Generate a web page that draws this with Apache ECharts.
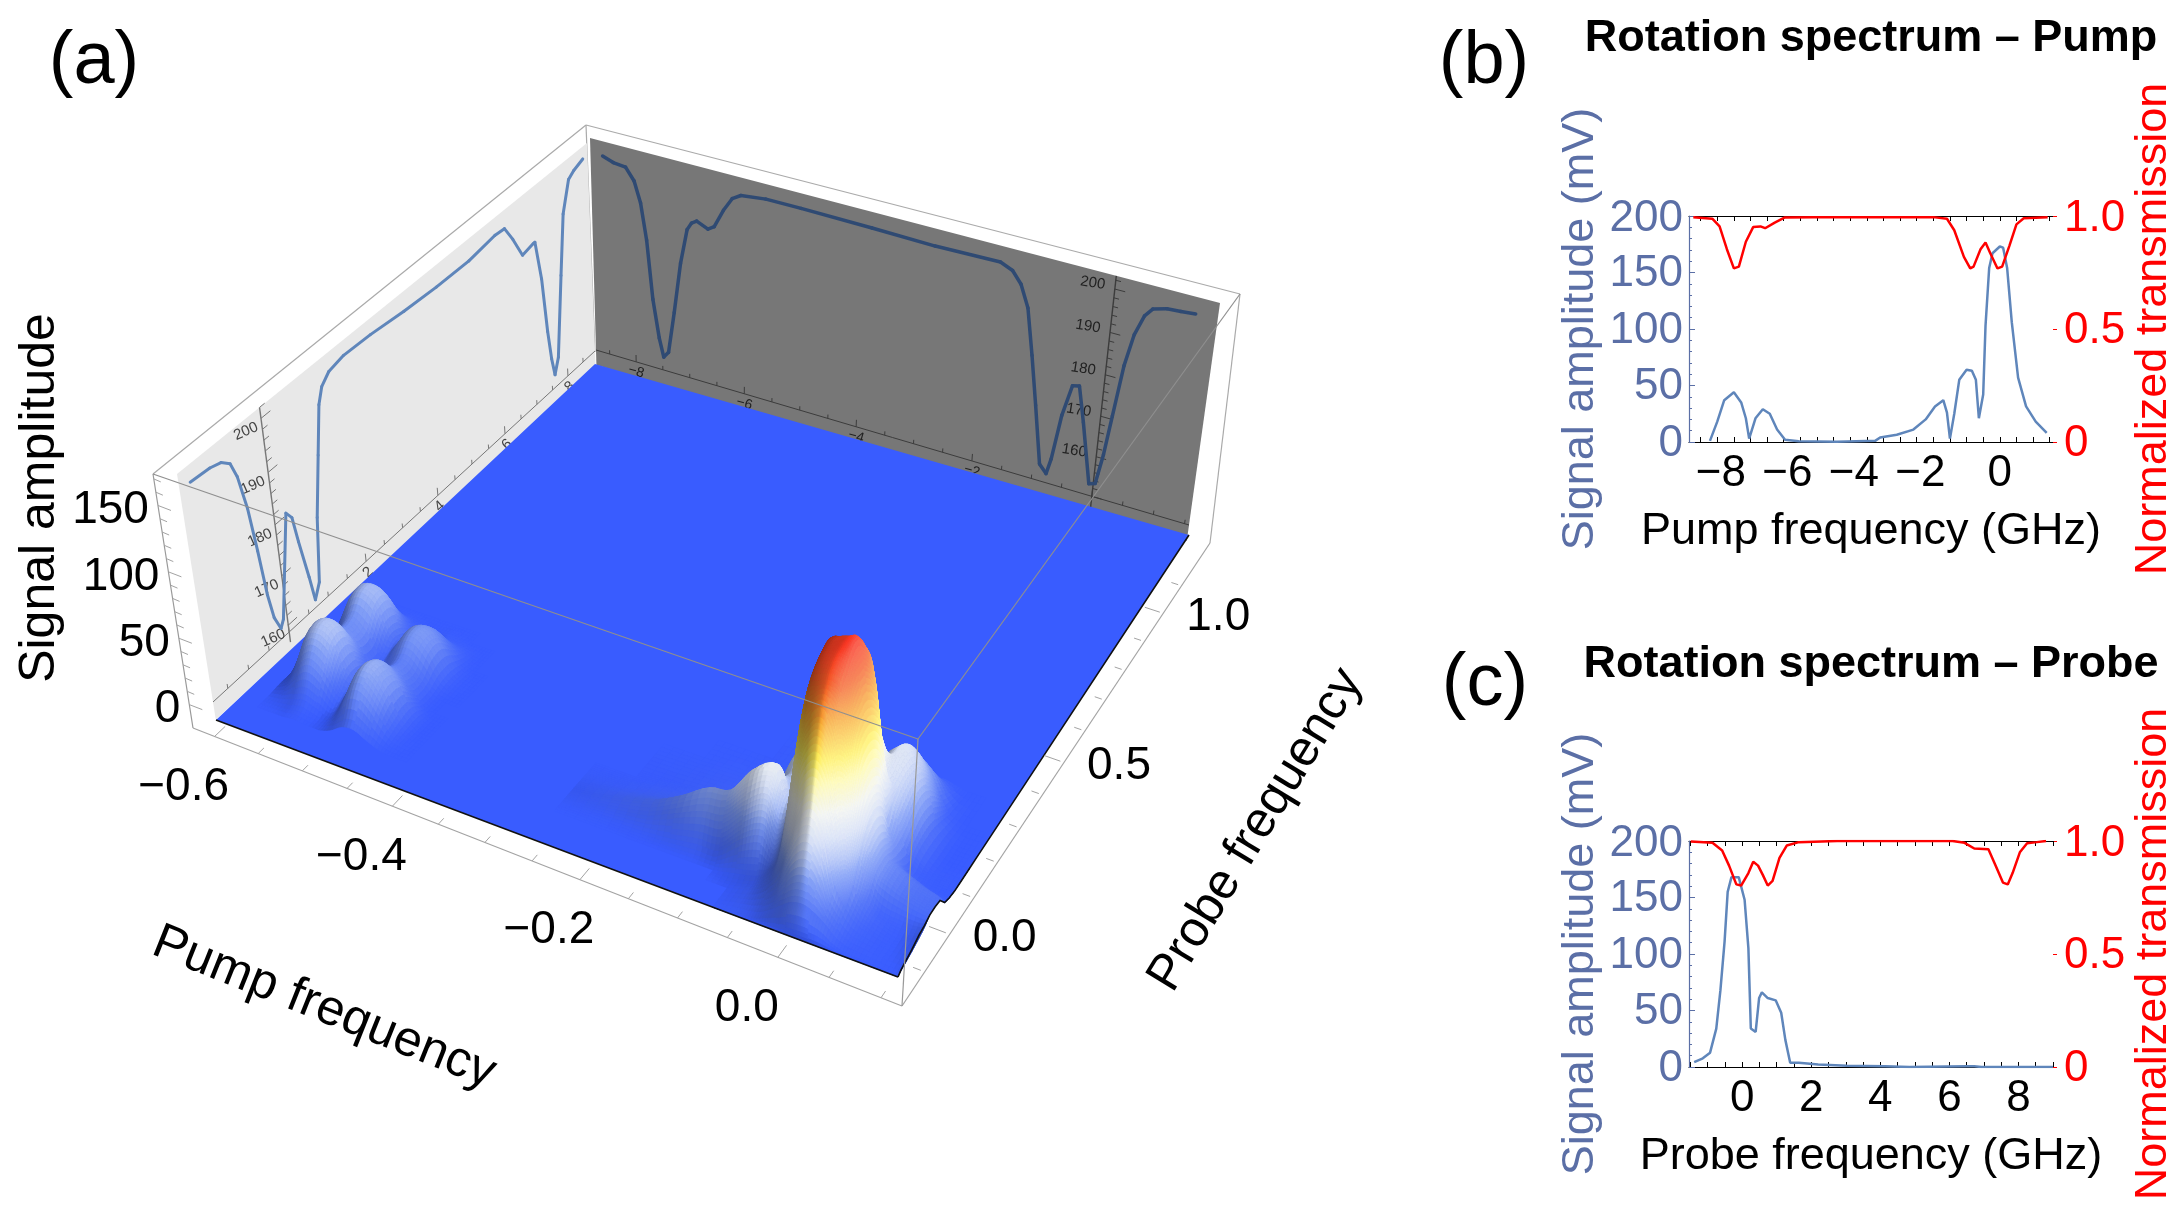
<!DOCTYPE html>
<html><head><meta charset="utf-8">
<style>html,body{margin:0;padding:0;background:#fff}#c{width:2181px;height:1213px}</style>
<script src="https://cdn.jsdelivr.net/npm/echarts@6/dist/echarts.min.js"></script>
</head><body><div id="c"></div>
<script>
// ---------- Panel (b) ----------
const pumpFreq=[-8.72,-8.5,-8.29,-8,-7.78,-7.64,-7.54,-7.35,-7.13,-6.92,-6.7,-6.46,-6.05,-4.9,-3.75,-3.6,-3.1,-2.6,-2.23,-1.95,-1.7,-1.59,-1.5,-1.37,-1.22,-1,-.84,-.72,-.63,-.5,-.43,-.32,-.22,0,.1,.22,.36,.55,.79,1.08,1.41];
const pumpSignal=[1,18,37,44,35,21,3,21,29,25,11,2,.7,.3,1,4,6.4,11,20,31.5,37,26,3,25,55,64,63,55,21,42,103,154,167,173,172,154,106,57,31.5,18,8];
const pumpTransFreq=[-9.22,-8.65,-8.43,-8.21,-8,-7.85,-7.64,-7.42,-7.2,-7.06,-6.77,-6.48,-5.6,-2,-1.59,-1.37,-1.08,-.89,-.79,-.58,-.43,-.29,-.07,.07,.29,.5,.72,1.44];
const pumpTrans=[.995,.988,.954,.853,.768,.776,.886,.951,.954,.946,.971,.993,.995,.995,.988,.937,.819,.768,.776,.853,.883,.836,.768,.776,.869,.963,.99,.995];
const pumpTickLabels=[-8,-6,-4,-2,0];
// ---------- Panel (c) ----------
const probeFreq=[-1.39,-1.14,-.93,-.75,-.63,-.51,-.42,-.31,-.1,.07,.18,.25,.39,.49,.57,.74,.97,1.13,1.25,1.39,1.64,2.2,3.03,4.14,4.84,6.5,6.72,6.93,9];
const probeSignal=[4.3,7.7,12.7,34,68,111,155,168,168,148,105,34,31,61,66,61,59,48,24,3.7,3.7,2.3,1,.7,0,.7,.6,0,0];
const probeTransFreq=[-1.49,-.86,-.58,-.38,-.17,-.03,.18,.32,.46,.6,.74,.88,1.08,1.29,1.64,2.75,6.09,6.44,6.72,7.13,7.34,7.55,7.69,7.83,8.04,8.25,8.53,8.8];
const probeTrans=[.998,.992,.958,.891,.808,.803,.858,.908,.891,.849,.803,.824,.925,.98,.995,1,1,.992,.967,.963,.891,.816,.808,.858,.95,.99,.995,1];
const probeTickLabels=[0,2,4,6,8];
// ---------- Panel (a) wall curves ----------
const sideWallFreq=[-1.62,-1.19,-.95,-.77,-.66,-.54,-.45,-.37,-.29,-.17,-.09,.27,.39,.47,.61,.69,.83,.96,1.15,1.3,1.41,1.61,1.99,2.67,3.54,4.41,5.32,6.07,6.35,6.57,6.82,7.15,7.2,7.34,7.44,7.52,7.6,7.73,7.93,8.08,8.29,8.46,8.75];
const sideWallSignal=[199,198.7,198.1,196.7,193.6,186.9,178.1,168.9,163.7,160.6,161.9,180.4,178.7,173.4,165.3,160.1,162.7,174.8,185.7,194.3,197,198.6,199.3,199.1,198.4,198,197.9,198.7,198.5,195.2,190.7,191.2,191.2,183,171.5,165.2,161.3,164.3,180.4,192.1,197.9,198.8,199.6];
const backWallFreq=[-8.54,-8.35,-8.13,-7.98,-7.87,-7.77,-7.67,-7.56,-7.48,-7.39,-7.28,-7.16,-7.04,-6.96,-6.87,-6.67,-6.56,-6.4,-6.25,-6.1,-5.67,-5.07,-3.88,-2.84,-1.79,-1.59,-1.44,-1.3,-1.17,-1.04,-.89,-.77,-.71,-.61,-.49,-.38,-.26,-.07,.03,.11,.18,.27,.37,.49,.6,.81,1.02,1.24];
const backWallSignal=[199.5,198.6,198.3,195.5,190.6,181.9,167.5,158,153.4,155,165.7,178.5,187.2,189.1,189.9,188.7,189.7,194.2,197.5,198.8,199.5,199.5,199.3,199,199.3,198.1,195.5,190.5,179.8,168.2,154.2,152.3,156.3,167.6,175.3,175.7,167.4,152.9,153.4,161,170.8,183.3,191,195.8,197.8,198.7,198.9,199.2];
// ---------- Panel (a) surface heights (mV) ----------
const nearPump=[-.265,-.221,-.177,-.148,-.119,-.097,-.075,-.053,-.042,-.031,-.02,-.009,-.002,.006,.013,.02,.031,.042,.053,.064,.082,.1,.115];
const nearProbe=[-.2,-.157,-.114,-.086,-.064,-.043,-.021,0,.022,.043,.065,.086,.129,.172,.229,.315];
const nearHeight=[
[0,0,0,0,0,0,0,0,0,0,0,0,0,0,0,0,0,0,0,0,0,0,0],
[0,0,0,0,0,0,0,2,3,5,10,16,20,22,22,20,15,8,4,3,2,1,2],
[0,0,0,0,0,0,0,4,8,16,30,58,72,78,74,60,30,16,8,5,2,2,5],
[0,0,0,0,0,0,3,7,13,26,70,115,130,137,132,115,72,26,13,7,3,3,8],
[0,1,2,4,7,8,22,30,20,41,103,148,155,158,158,150,103,41,17,8,6,6,9],
[0,3,8,17,26,29,45,55,40,54,122,158,165,166,168,160,122,54,26,20,15,12,11],
[0,5,13,24,37,41,60,68,50,60,128,163,168,170,172,168,128,60,28,22,16,13,11],
[0,4,10,19,30,33,56,66,48,60,128,165,169,171,174,170,128,60,28,22,16,13,10],
[0,2,6,12,18,20,42,52,38,54,122,160,166,168,170,162,122,54,25,16,10,5,3],
[0,1,4,7,11,12,20,50,48,41,110,150,158,162,160,150,110,41,24,9,3,1,1],
[0,0,2,4,6,7,24,55,52,38,82,133,148,150,148,133,82,47,25,6,2,1,0],
[0,0,1,3,4,5,24,56,54,38,54,97,116,122,116,97,60,52,28,10,2,1,0],
[0,0,1,2,3,4,10,38,36,22,20,27,34,41,52,60,62,55,35,12,1,0,0],
[0,0,0,1,1,2,3,7,7,4,6,12,26,40,50,55,60,50,32,10,1,0,0],
[0,0,0,0,0,1,1,1,1,1,2,5,11,19,30,36,38,30,15,4,0,0,0],
[0,0,0,0,0,0,0,0,0,0,0,0,0,1,2,3,3,3,1,0,0,0,0]];
const farPump=[-.6,-.586,-.571,-.557,-.542,-.527,-.513,-.498,-.484,-.469,-.454,-.44,-.425];
const farProbe=[-.1,-.064,-.028,.007,.043,.079,.115,.15,.186,.222,.258,.293];
const farHeight=[
[0,0,0,1,0,0,3,9,10,5,1,0,0],
[0,1,4,7,4,1,11,27,29,18,5,1,0],
[1,8,23,30,23,8,17,36,39,27,8,1,0],
[1,16,39,45,39,16,16,33,37,26,9,1,0],
[1,16,39,45,39,16,6,20,24,14,3,0,0],
[0,7,23,30,23,8,9,19,22,13,3,0,0],
[1,7,23,31,23,7,15,28,31,22,6,1,0],
[1,16,36,42,36,16,15,29,31,23,6,1,0],
[1,14,36,41,36,14,7,19,22,13,3,0,0],
[0,5,16,22,16,5,1,5,6,4,1,0,0],
[0,1,3,4,3,1,0,1,1,0,0,0,0],
[0,0,0,0,0,0,0,0,0,0,0,0,0]];
const pumpAxisLabels=[-.6,-.4,-.2,0];
const probeAxisLabels=[0,.5,1];
const signalAxisLabels=[0,50,100,150];
const wallSignalLabels=[160,170,180,190,200];
const sideWallFreqLabels=[2,4,6,8];
const backWallFreqLabels=[-8,-6,-4,-2];

// ---------- projection of panel (a) ----------
function homography(q){
  const [x0,y0]=q[0],[x1,y1]=q[1],[x2,y2]=q[2],[x3,y3]=q[3];
  const dx1=x1-x2,dx2=x3-x2,dy1=y1-y2,dy2=y3-y2,sx=x0-x1+x2-x3,sy=y0-y1+y2-y3;
  const den=dx1*dy2-dx2*dy1,g=(sx*dy2-dx2*sy)/den,h=(dx1*sy-sx*dy1)/den;
  const a=x1-x0+g*x1,b=x3-x0+h*x3,d=y1-y0+g*y1,e=y3-y0+h*y3;
  return (u,v)=>{const w=g*u+h*v+1;return [(a*u+b*v+x0)/w,(d*u+e*v+y0)/w];};
}
const floorBase=homography([[216,720],[898,977],[1189,535],[595,364]]);
const floorTop=homography([[176,461],[914,704],[1219,281],[586,136]]);
const Z_TOP=195;
const clamp01=v=>Math.min(1,Math.max(0,v));
const sOf=p=>clamp01((p+.615)/.73+.012), tOf=q=>clamp01((q+.2)/1.43-.022);
function surf(p,q,z){const a=floorBase(sOf(p),tOf(q)),b=floorTop(sOf(p),tOf(q)),k=z/Z_TOP;return [a[0]+(b[0]-a[0])*k,a[1]+(b[1]-a[1])*k];}
const frameL=[193,728],frameF=[902,1006],frameR=[1210,543],frameB=[597,349];
const frameL2=[153,474],frameF2=[918,739],frameR2=[1240,294],frameB2=[586,125];
const frameFloor=homography([frameL,frameF,frameR,frameB]);
const uOf=p=>(p+.625)/.745, vOf=q=>.13+.69*q;
const zFrac=z=>(z+17.6)/191.3;
const sideH=homography([[213,702],[595,351],[587,143],[177,474]]);
const sideWall=(f,v)=>sideH((f+1.85)/10.75,(v-158.6)/43.4);
const backH=homography([[596,350],[1189,525],[1220,303],[590,138]]);
const backWall=(f,v)=>backH((f+8.76)/10.33,(v-150)/53);

// ---------- surface colours ----------
const cmap=[[0,57,92,255],[15,78,112,247],[35,125,155,245],[45,170,190,245],[58,212,222,245],[75,242,244,240],[95,255,250,170],[110,255,240,90],[135,248,165,50],[155,245,95,40],[175,250,50,35]];
function shaded(z,nx){
  let k=cmap.length-1;for(let i=1;i<cmap.length;i++){if(z<=cmap[i][0]){k=i;break;}}
  const A=cmap[k-1],B=cmap[k],m=clamp01((z-A[0])/(B[0]-A[0]));
  let c=[1,2,3].map(i=>A[i]+(B[i]-A[i])*m);
  if(nx<0)c=c.map(v=>v*(1+.45*nx));else{const w=.25*nx*Math.min(1,z/40);c=c.map(v=>v+(255-v)*w);}
  return 'rgb('+c.map(v=>Math.round(v)).join(',')+')';
}
const cr=(p0,p1,p2,p3,t)=>.5*(2*p1+(p2-p0)*t+(2*p0-5*p1+4*p2-p3)*t*t+(3*p1-p0-3*p2+p3)*t*t*t);
function bicubic(G,i,j,a,b){
  const nI=G[0].length,nJ=G.length,r=[];
  for(let m=-1;m<=2;m++){const R=G[Math.min(nJ-1,Math.max(0,j+m))];
    r.push(cr(R[Math.max(0,i-1)],R[i],R[Math.min(nI-1,i+1)],R[Math.min(nI-1,i+2)],a));}
  return cr(r[0],r[1],r[2],r[3],b);
}
function surfaceSeries(pump,probe,H,name){
  const nI=pump.length,nJ=probe.length,N=[];
  for(let j=0;j<nJ;j++){N.push([]);for(let i=0;i<nI;i++){
    const i0=Math.max(0,i-1),i1=Math.min(nI-1,i+1),j0=Math.max(0,j-1),j1=Math.min(nJ-1,j+1);
    const dzs=(H[j][i1]-H[j][i0])*1.35/(sOf(pump[i1])-sOf(pump[i0]));
    const dzt=(H[j1][i]-H[j0][i])*1.35/(tOf(probe[j1])-tOf(probe[j0]));
    const g=dzs*.001175+dzt*.0001;
    N[j].push(-g/Math.sqrt(1+g*g));
  }}
  const data=[];
  for(let j=nJ-2;j>=0;j--)for(let i=0;i<nI-1;i++){
    const zs=[H[j][i],H[j][i+1],H[j+1][i],H[j+1][i+1]];
    if(Math.max(...zs)>0)data.push([i,j]);
  }
  return {type:'custom',name,coordinateSystem:'none',silent:true,animation:false,z:6,clip:false,data,
    renderItem(params,api){
      const i=api.value(0),j=api.value(1);
      const z00=H[j][i],z10=H[j][i+1],z01=H[j+1][i],z11=H[j+1][i+1];
      const n00=N[j][i],n10=N[j][i+1],n01=N[j+1][i],n11=N[j+1][i+1];
      const dz=Math.max(z00,z10,z01,z11)-Math.min(z00,z10,z01,z11);
      const n=Math.min(12,Math.max(4,Math.ceil(dz/5)));
      const bl=(a,b)=>n00*(1-a)*(1-b)+n10*a*(1-b)+n01*(1-a)*b+n11*a*b;
      const zAt=(a,b)=>Math.max(0,bicubic(H,i,j,a,b));
      const grid=[];
      for(let b=0;b<=n;b++){const row=[];for(let a=0;a<=n;a++){
        const z=zAt(a/n,b/n);
        row.push({z,p:surf(pump[i]+(pump[i+1]-pump[i])*a/n,probe[j]+(probe[j+1]-probe[j])*b/n,z)});}
        grid.push(row);}
      const children=[];
      for(let b=n-1;b>=0;b--)for(let a=0;a<n;a++){
        const c00=grid[b][a],c10=grid[b][a+1],c11=grid[b+1][a+1],c01=grid[b+1][a];
        const col=shaded((c00.z+c10.z+c11.z+c01.z)/4,bl((a+.5)/n,(b+.5)/n));
        children.push({type:'polygon',shape:{points:[c00.p,c10.p,c11.p,c01.p]},style:{fill:col,stroke:col,lineWidth:.8}});
      }
      return {type:'group',children};
    }};
}
function seg(p,q,stroke,lineWidth){return {type:'line',shape:{x1:p[0],y1:p[1],x2:q[0],y2:q[1]},style:{stroke,lineWidth}};}
function txt(x,y,text,size,fill,align,rot){return {type:'text',x,y,rotation:(rot||0)*Math.PI/180,style:{text,fill,font:size+'px "Liberation Sans",Arial,sans-serif',align:align||'center',verticalAlign:'middle'}};}
const fmtMinus=v=>String(v).replace('-','\u2212');

function wallCurveSeries(freq,sig,map,color,width,z){
  return {type:'custom',coordinateSystem:'none',silent:true,animation:false,z,clip:false,
    data:freq.map((f,i)=>[f,sig[i],i]),
    renderItem(params,api){const i=api.value(2);if(i===0)return null;
      const a=map(freq[i-1],sig[i-1]),b=map(freq[i],sig[i]);
      return {type:'line',shape:{x1:a[0],y1:a[1],x2:b[0],y2:b[1]},style:{stroke:color,lineWidth:width,lineCap:'round'}};}};
}
function one(fn,z){return {type:'custom',coordinateSystem:'none',silent:true,animation:false,z,clip:false,data:[[0]],renderItem(){return {type:'group',children:fn()};}};}

const backScene=one(()=>{
  const k=[];
  k.push(seg(frameL2,frameB2,'#aaa',1.2),seg(frameB2,frameR2,'#aaa',1.2),seg(frameB2,[595,352],'#aaa',1.2),seg(frameR2,frameR,'#aaa',1.2),seg(frameL2,frameL,'#999',1.2));
  k.push({type:'polygon',shape:{points:[sideWall(-1.85,155),sideWall(8.9,155),sideWall(8.9,202),sideWall(-1.85,202)]},style:{fill:'#e8e8e8'}});
  k.push({type:'polygon',shape:{points:[backWall(-8.76,146),backWall(1.57,146),backWall(1.57,203),backWall(-8.76,203)]},style:{fill:'#777777'}});
  k.push(seg(sideWall(-1.85,158.6),sideWall(8.9,158.6),'#777',1));
  for(let f=-1.5;f<=8.6;f+=.5){const maj=f%2===0;k.push(seg(sideWall(f,158.6),sideWall(f,158.6+(maj?1.6:.9)),'#777',1));}
  k.push(seg(sideWall(0,156.5),sideWall(0,202),'#777',1.4));
  for(let v=160;v<=202;v+=2){const maj=v%10===0;k.push(seg(sideWall(0,v),sideWall(maj?.22:.12,v),'#777',1));}
  sideWallFreqLabels.forEach(f=>{const p=sideWall(f,158.6);k.push(txt(p[0]+2,p[1]+11,String(f),15,'#444','center',42));});
  wallSignalLabels.forEach(v=>{const p=sideWall(0,v);k.push(txt(p[0]-15,p[1]+13,String(v),15,'#444','center',24));});
  k.push(seg(backWall(-8.76,150),backWall(1.57,150),'#3c3c3c',1));
  for(let f=-8.5;f<=1.5;f+=.5){const maj=f%2===0;k.push(seg(backWall(f,150),backWall(f,150+(maj?1.8:1)),'#3c3c3c',1));}
  k.push(seg(backWall(0,147),backWall(0,203),'#3c3c3c',1.4));
  for(let v=150;v<=202;v+=2){const maj=v%10===0;k.push(seg(backWall(0,v),backWall(maj?.16:.08,v),'#3c3c3c',1));}
  backWallFreqLabels.forEach(f=>{const p=backWall(f,150);k.push(txt(p[0],p[1]+10,fmtMinus(f),14,'#222','center',-16));});
  wallSignalLabels.forEach(v=>{const p=backWall(0,v);k.push(txt(p[0]-22,p[1]-6,String(v),15,'#222','center',-9));});
  return k;
},1);
function rimPoints(){
  const last=nearPump.length-1,rim=[floorBase(1,0)];
  nearProbe.forEach((q,j)=>rim.push(surf(nearPump[last],q,nearHeight[j][last])));
  rim.push(floorBase(1,1));
  return rim;
}
const floorScene=one(()=>[{type:'polygon',shape:{points:[floorBase(0,0),...rimPoints(),floorBase(0,1)]},style:{fill:'#395cff'}}],5);
const frontScene=one(()=>{
  const k=[];
  k.push(seg(floorBase(0,0),floorBase(1,0),'#111',1.6));
  k.push({type:'polyline',shape:{points:rimPoints()},style:{stroke:'#111',lineWidth:1.6,fill:null}});
  const c='#a3a3a3';
  k.push(seg(frameL,frameF,c,1.2),seg(frameF,frameR,c,1.2),seg(frameL2,frameF2,'#8f8f8f',1.2),seg(frameF2,frameR2,'#8f8f8f',1.2),seg(frameF2,frameF,'#999',1.2));
  for(let p=-.6;p<=.101;p+=.05){const maj=Math.abs(p/.2-Math.round(p/.2))<.01,u=uOf(p);k.push(seg(frameFloor(u,0),frameFloor(u,maj?.022:.012),c,1));}
  for(let q=-.1;q<=1.151;q+=.1){const maj=Math.abs(q/.5-Math.round(q/.5))<.01,v=vOf(q);k.push(seg(frameFloor(0.995,v),frameFloor(maj?.973:.985,v),c,1));}
  for(let z=0;z<=170;z+=10){const m=zFrac(z),x=frameL[0]+(frameL2[0]-frameL[0])*m,y=frameL[1]+(frameL2[1]-frameL[1])*m,maj=z%50===0;k.push(seg([x,y],[x+(maj?13:7),y+(maj?5:3)],c,1));}
  pumpAxisLabels.forEach(p=>{const a=frameFloor(uOf(p),0);k.push(txt(a[0]-31,a[1]+51,fmtMinus(p.toFixed(1)),46,'#000'));});
  probeAxisLabels.forEach(q=>{const a=frameFloor(1,vOf(q));k.push(txt(a[0]+55,a[1]+4,q.toFixed(1),46,'#000'));});
  signalAxisLabels.forEach(z=>{const m=zFrac(z),x=frameL[0]+(frameL2[0]-frameL[0])*m,y=frameL[1]+(frameL2[1]-frameL[1])*m;k.push(txt(x-9,y+5,String(z),46,'#000','right'));});
  k.push(txt(40,498,'Signal amplitude',50,'#000','center',90));
  k.push(txt(324,1008,'Pump frequency',50,'#000','center',-21.8));
  k.push(txt(1256,830,'Probe frequency',50,'#000','center',58.7));
  return k;
},8);

const FONT='"Liberation Sans",Arial,sans-serif', BLUE='#5b6fa6', CURVE='#5f86bb', RED='#ff0000', FS=45;
const stepTicks=(a,b)=>{const r=[];for(let v=a;v<=b+1e-9;v+=.5)r.push(v);return r;};
function xAxes(grid,min,max,ticks,name){return [
 {type:'value',gridIndex:grid,min,max,position:'bottom',name,nameLocation:'middle',nameGap:67,nameMoveOverlap:false,nameTextStyle:{fontSize:FS,color:'#000',fontFamily:FONT},
  splitLine:{show:false},axisLine:{onZero:false,lineStyle:{color:'#000',width:1.2}},
  axisTick:{inside:true,length:5,customValues:ticks,lineStyle:{color:'#000'}},axisLabel:{show:false}},
 {type:'value',gridIndex:grid,min,max,position:'top',splitLine:{show:false},axisLine:{onZero:false,lineStyle:{color:'#000',width:1.2}},
  axisTick:{inside:true,length:5,customValues:ticks,lineStyle:{color:'#000'}},axisLabel:{show:false}}];}
// x tick labels: the digit, not the sign, is centred on the tick, as in the figure
function xLabelSeries(xi,yi,values){return {type:'custom',coordinateSystem:'cartesian2d',xAxisIndex:xi,yAxisIndex:yi,silent:true,animation:false,z:4,clip:false,
  data:values.map(v=>[v,0]),
  renderItem(params,api){const v=api.value(0),p=api.coord([v,0]);
    return {type:'text',x:p[0]+(v<0?-13:0),y:p[1]+32,style:{text:fmtMinus(v),fill:'#000',font:'44px '+FONT,align:'center',verticalAlign:'middle'}};}};}
function yAxes(grid){
 const top=c=>({m:{fontSize:44,color:c,fontFamily:FONT,padding:[2,0,0,0]}});
 return [
 {type:'value',gridIndex:grid,min:0,max:200,interval:50,position:'left',name:'Signal amplitude (mV)',nameLocation:'middle',nameGap:86,nameMoveOverlap:false,nameRotate:90,
  nameTextStyle:{fontSize:FS,color:BLUE,fontFamily:FONT},splitLine:{show:false},axisLine:{show:true,onZero:false,lineStyle:{color:BLUE,width:1.2}},
  axisTick:{inside:true,length:6,lineStyle:{color:BLUE}},minorTick:{show:true,splitNumber:5,length:3,lineStyle:{color:BLUE}},
  axisLabel:{fontSize:44,color:BLUE,fontFamily:FONT,margin:6,padding:[3,0,0,0],rich:top(BLUE),formatter:v=>v===200?'{m|200}':String(v)}},
 {type:'value',gridIndex:grid,min:0,max:1,interval:.5,position:'right',name:'Normalized transmission',nameLocation:'middle',nameGap:78,nameMoveOverlap:false,nameRotate:90,
  nameTextStyle:{fontSize:FS,color:RED,fontFamily:FONT},splitLine:{show:false},axisLine:{show:false,onZero:false},
  axisTick:{show:true,inside:false,length:4,lineStyle:{color:RED}},
  axisLabel:{fontSize:44,color:RED,fontFamily:FONT,margin:11,padding:[3,0,0,0],rich:top(RED),formatter:v=>v===0?'0':v===1?'{m|1.0}':v.toFixed(1)}}];}
function line(x,y,xs,ys,color,w){return {type:'line',xAxisIndex:x,yAxisIndex:y,data:xs.map((v,i)=>[v,ys[i]]),showSymbol:false,symbol:'none',silent:true,animation:false,clip:true,lineStyle:{color,width:w},z:3};}
function head(text,left,top,size,bold){return {text,left,top,textAlign:'center',textStyle:{fontSize:size,fontWeight:bold?'bold':'normal',color:'#000',fontFamily:FONT}};}

const chart=echarts.init(document.getElementById('c'),null,{renderer:'canvas',width:2181,height:1213});
chart.setOption({
 backgroundColor:'#fff',animation:false,tooltip:{show:false},
 title:[head('(a)',89,21,74),head('(b)',1479,21,74),head('(c)',1480,643,74),
        head('Rotation spectrum \u2013 Pump',1866,11,45,true),head('Rotation spectrum \u2013 Probe',1866,637,45,true)],
 grid:[{left:1689,top:216,width:364,height:226},{left:1689,top:841,width:364,height:226}],
 xAxis:[...xAxes(0,-9.35,1.6,stepTicks(-9,1.5),'Pump frequency (GHz)'),
        ...xAxes(1,-1.54,9,stepTicks(-1.5,9),'Probe frequency (GHz)')],
 yAxis:[...yAxes(0),...yAxes(1)],
 series:[backScene,
  wallCurveSeries(sideWallFreq,sideWallSignal,sideWall,'#5f86bb',3,2),
  wallCurveSeries(backWallFreq,backWallSignal,backWall,'#2f4a73',3.5,2),
  floorScene,
  surfaceSeries(farPump,farProbe,farHeight,'far'),
  surfaceSeries(nearPump,nearProbe,nearHeight,'near'),
  frontScene,
  line(0,0,pumpFreq,pumpSignal,CURVE,2.5),
  line(0,1,pumpTransFreq,pumpTrans,RED,2.5),
  line(2,2,probeFreq,probeSignal,CURVE,2.5),
  line(2,3,probeTransFreq,probeTrans,RED,2.5),
  xLabelSeries(0,0,pumpTickLabels),
  xLabelSeries(2,2,probeTickLabels)]
});
</script></body></html>
